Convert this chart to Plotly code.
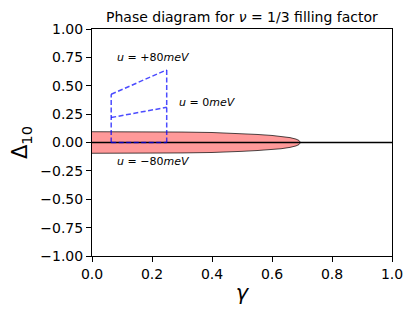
import plotly.graph_objects as go

# phase boundary (upper half; lower half is mirrored)
gamma_edge = [0.0, 0.1, 0.2, 0.3, 0.4, 0.45, 0.5, 0.55, 0.6, 0.63, 0.66, 0.68, 0.69, 0.695]
delta_edge = [0.095, 0.095, 0.094, 0.092, 0.088, 0.084, 0.078, 0.071, 0.062, 0.055, 0.043, 0.030, 0.018, 0.0]

# dashed boundaries for the three bias values
u_labels = ["<i>u</i> = +80<i>meV</i>", "<i>u</i> = 0<i>meV</i>", "<i>u</i> = −80<i>meV</i>"]
u_gamma = [0.064, 0.249]
u_plus = [0.425, 0.64]
u_zero = [0.22, 0.31]
u_minus = [0.0, 0.0]
label_x = [0.205, 0.385, 0.205]
label_y = [0.75, 0.35, -0.165]

x_ticks = [0.0, 0.2, 0.4, 0.6, 0.8, 1.0]
x_ticktext = ["0.0", "0.2", "0.4", "0.6", "0.8", "1.0"]
y_ticks = [1.0, 0.75, 0.5, 0.25, 0.0, -0.25, -0.5, -0.75, -1.0]
y_ticktext = ["1.00", "0.75", "0.50", "0.25", "0.00", "−0.25", "−0.50", "−0.75", "−1.00"]

fig = go.Figure()

# filled region
poly_x = gamma_edge + gamma_edge[::-1]
poly_y = delta_edge + [-d for d in delta_edge[::-1]]
fig.add_trace(go.Scatter(x=poly_x, y=poly_y, mode="lines", fill="toself",
                         fillcolor="rgba(255,0,0,0.4)",
                         line=dict(color="black", width=0.7), hoverinfo="skip"))

# zero line
fig.add_trace(go.Scatter(x=[0, 1], y=[0, 0], mode="lines",
                         line=dict(color="black", width=1.3), hoverinfo="skip"))

dash = "5px,2.5px"
blue = "rgba(0,0,255,0.7)"
for vals in (u_plus, u_zero, u_minus):
    fig.add_trace(go.Scatter(x=u_gamma, y=vals, mode="lines",
                             line=dict(color=blue, width=1.5, dash=dash)))
# verticals
fig.add_trace(go.Scatter(x=[u_gamma[0], u_gamma[0]], y=[u_minus[0], u_plus[0]], mode="lines",
                         line=dict(color=blue, width=1.5, dash=dash)))
fig.add_trace(go.Scatter(x=[u_gamma[1], u_gamma[1]], y=[u_minus[1], u_plus[1]], mode="lines",
                         line=dict(color=blue, width=1.5, dash=dash)))

for t, lx, ly in zip(u_labels, label_x, label_y):
    fig.add_annotation(x=lx, y=ly, text=t, showarrow=False,
                       font=dict(family="DejaVu Sans", size=11, color="black"))

fig.add_annotation(x=0.5, y=1, xref="paper", yref="paper", yanchor="bottom", yshift=2,
                   text="Phase diagram for <i>ν</i> = 1/3 filling factor", showarrow=False,
                   font=dict(family="DejaVu Sans", size=14, color="black"))

axis_common = dict(showline=True, linecolor="black", linewidth=1, mirror=True,
                   ticks="outside", ticklen=5, tickwidth=1, tickcolor="black",
                   showgrid=False, zeroline=False,
                   tickfont=dict(family="DejaVu Sans", size=14, color="black"))

fig.update_layout(
    width=407, height=304,
    margin=dict(l=79, r=21, t=21, b=56),
    paper_bgcolor="white", plot_bgcolor="white",
    showlegend=False,
    xaxis=dict(range=[0, 1], tickvals=x_ticks, ticktext=x_ticktext,
               title=dict(text="<i>γ</i>", font=dict(family="DejaVu Sans", size=21, color="black"), standoff=4),
               **axis_common),
    yaxis=dict(range=[-1, 1], tickvals=y_ticks, ticktext=y_ticktext,
               title=dict(text="Δ<sub>10</sub>", font=dict(family="DejaVu Sans", size=21, color="black"), standoff=6),
               **axis_common),
)

fig.write_html("out.html")
